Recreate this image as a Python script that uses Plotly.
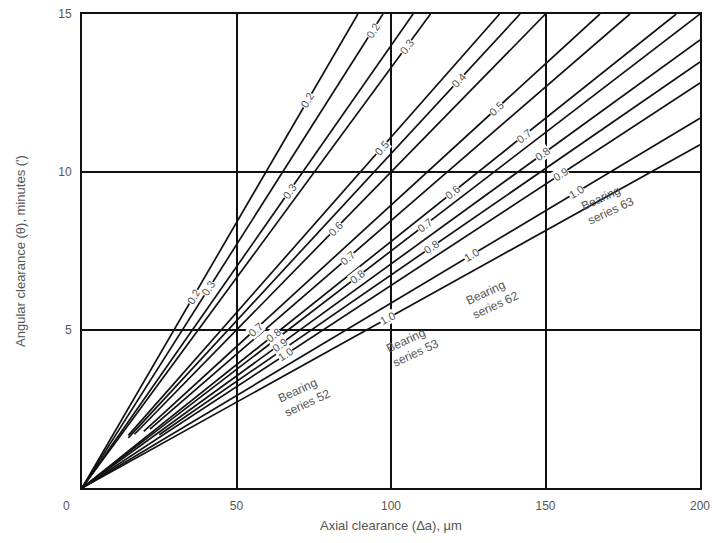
import math
import numpy as np
import plotly.graph_objects as go

# ---- data ----
# slopes of the clearance lines: angular clearance (') per axial clearance (µm)
line_slopes = [0.168, 0.154, 0.140, 0.133, 0.111, 0.1058, 0.100, 0.0895,
               0.0846, 0.078, 0.075, 0.0709, 0.0674, 0.0641, 0.0585, 0.0543]
line_start = [0, 0, 0, 0, 15, 15, 17, 20, 22, 0, 0, 0, 25, 0, 0, 0]

# line labels: text, index of line, axial clearance where the label sits
label_text = ["0.2", "0.3", "0.7", "0.8", "0.9", "1.0",
              "0.3", "0.6", "0.5", "0.7", "0.8", "1.0",
              "0.7", "0.6", "0.8", "1.0",
              "0.2", "0.2", "0.3", "0.4", "0.5", "0.7", "0.8", "0.9", "1.0"]
label_line = [0, 1, 7, 9, 11, 13,
              2, 6, 4, 8, 10, 15,
              10, 9, 12, 14,
              0, 1, 3, 5, 7, 9, 11, 13, 14]
label_x = [36, 41, 56, 62, 64, 66,
           67, 82, 97, 86, 89, 99,
           111, 120, 113, 126,
           73, 94, 105, 122, 134, 143, 149, 155, 160]

series_names = ["Bearing<br>series 52", "Bearing<br>series 53",
                "Bearing<br>series 62", "Bearing<br>series 63"]
series_x = [72, 107, 133, 170]
series_y = [2.9, 4.5, 6.0, 9.0]

x_ticks = [50, 100, 150, 200]
y_ticks = [5, 10, 15]
x_max, y_max = 200, 15

# ---- layout geometry (page body has an 8 px margin) ----
W, H = 711, 535
ml, mr, mt, mb = 74, 19, 6, 55
pw, ph = W - ml - mr, H - mt - mb
px_x, px_y = pw / x_max, ph / y_max

FONT = "Liberation Sans, Arial, sans-serif"
GREY = "#555"

fig = go.Figure()

for s, x0 in zip(line_slopes, line_start):
    x1 = min(x_max, y_max / s)
    xs = np.array([x0, x1])
    fig.add_trace(go.Scatter(x=xs, y=s * xs, mode="lines",
                             line=dict(color="#111", width=1.7),
                             hoverinfo="skip", showlegend=False))

for t, li, xv in zip(label_text, label_line, label_x):
    s = line_slopes[li]
    ang = math.degrees(math.atan(s * px_y / px_x))
    fig.add_annotation(x=xv, y=s * xv, text=t, showarrow=False,
                       textangle=-ang,
                       font=dict(family=FONT, size=11, color=GREY),
                       bgcolor="white", borderpad=0)

for t, xv, yv in zip(series_names, series_x, series_y):
    fig.add_annotation(x=xv, y=yv, text=t, showarrow=False, textangle=-25,
                       font=dict(family=FONT, size=12, color=GREY),
                       align="left")

# origin label
fig.add_annotation(x=0, y=0, xref="x", yref="y", text="0", showarrow=False,
                   xshift=-16, yshift=-18,
                   font=dict(family=FONT, size=12, color=GREY))

fig.update_xaxes(range=[0, x_max], tickvals=x_ticks,
                 ticktext=[str(v) for v in x_ticks],
                 showgrid=True, gridcolor="#111", gridwidth=1.5,
                 showline=True, linecolor="#111", linewidth=2, mirror=True,
                 zeroline=False, ticks="", automargin=False,
                 ticklabelstandoff=6, ticklabeloverflow="allow",
                 tickfont=dict(family=FONT, size=12, color=GREY),
                 title=dict(text="Axial clearance (\u0394a), \u00b5m", standoff=8,
                            font=dict(family=FONT, size=13, color=GREY)))
fig.update_yaxes(range=[0, y_max], tickvals=y_ticks,
                 ticktext=[str(v) for v in y_ticks],
                 showgrid=True, gridcolor="#111", gridwidth=1.5,
                 showline=True, linecolor="#111", linewidth=2, mirror=True,
                 zeroline=False, ticks="", automargin=False,
                 ticklabelstandoff=6, ticklabeloverflow="allow",
                 tickfont=dict(family=FONT, size=12, color=GREY),
                 title=dict(text="Angular clearance (\u03b8), minutes (')", standoff=30,
                            font=dict(family=FONT, size=13, color=GREY)))

fig.update_layout(width=W, height=H, autosize=False,
                  margin=dict(l=ml, r=mr, t=mt, b=mb),
                  plot_bgcolor="white", paper_bgcolor="white")

fig.write_html("out.html")
